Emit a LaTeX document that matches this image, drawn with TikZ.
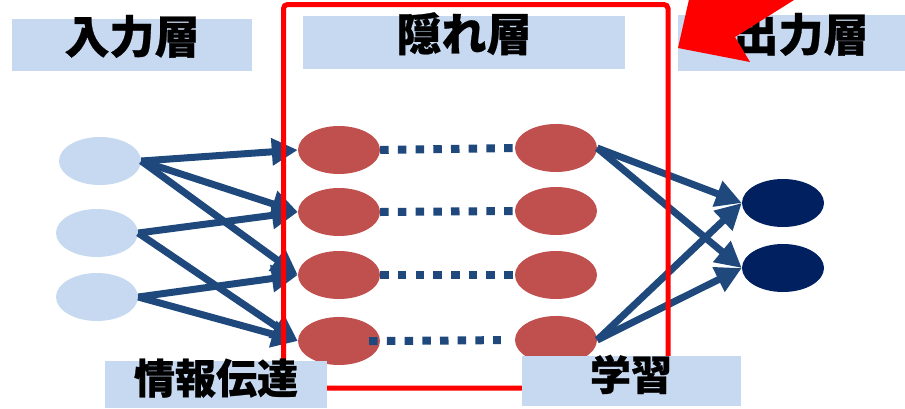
\documentclass[tikz,border=0pt]{standalone}
\usepackage{fontspec}
\newfontfamily\cjk{Noto Sans CJK JP}[BoldFeatures={FakeBold=0.6}]
\usetikzlibrary{arrows.meta}
\usetikzlibrary{shapes.geometric}

\definecolor{inblue}{RGB}{198,217,240}
\definecolor{hidred}{RGB}{192,80,77}
\definecolor{outnavy}{RGB}{0,32,96}
\definecolor{linkblue}{RGB}{31,73,125}
\definecolor{boxblue}{RGB}{198,217,241}

\tikzset{
	neuron/.style={ shape=ellipse, minimum width=82pt, minimum height=48pt, inner sep=0pt },
	layerlabel/.style={ fill=boxblue, inner sep=0pt, text height=16.6pt, text depth=0pt, font=\cjk\bfseries\fontsize{45}{45}\selectfont },
	steplabel/.style={ fill=boxblue, inner sep=0pt, text height=18.2pt, text depth=0pt, font=\cjk\bfseries\fontsize{41}{41}\selectfont },
	link/.style={ draw=linkblue, line width=7pt, -{Triangle[length=26pt, width=26pt]} },
	dots/.style={ draw=linkblue, line width=8pt, dash pattern=on 8.5pt off 9.2pt }
}

\begin{document}
\begin{tikzpicture}[ x=1pt, y=-1pt ]

	\useasboundingbox (0, 0) rectangle (905, 408);
	\clip (0, 0) rectangle (905, 408);

	% neurons
	\node[ neuron, fill=inblue ] (in1) at (100, 161) {};
	\node[ neuron, fill=inblue ] (in2) at (97, 233) {};
	\node[ neuron, fill=inblue ] (in3) at (97, 297) {};

	\foreach \i/\yl/\yr in {1/150/148, 2/212/211, 3/275/275, 4/341/340} {
		\node[ neuron, fill=hidred ] (hl\i) at (339, \yl) {};
		\node[ neuron, fill=hidred ] (hr\i) at (556, \yr) {};
	}

	\node[ neuron, fill=outnavy ] (out1) at (783, 203) {};
	\node[ neuron, fill=outnavy ] (out2) at (783, 268) {};

	% links
	\foreach \a/\b in {in1/hl1, in1/hl2, in1/hl3, in2/hl2, in2/hl4, in3/hl3, in3/hl4} {
		\draw[ link ] (\a.east) -- (\b.west);
	}
	\foreach \a in {hr1, hr4} {
		\draw[ link ] (\a.east) -- (out1.west);
		\draw[ link ] (\a.east) -- (out2.west);
	}

	\foreach \i in {1, 2, 3} {
		\draw[ dots, shorten >=2pt ] (hl\i.east) -- (hr\i.west);
	}
	\draw[ dots, shorten <=-11pt, shorten >=14pt ] (hl4.east) -- (hr4.west);

	% hidden layer frame
	\draw[ red, line width=5pt, rounded corners=4pt ] (283.5, 4.5) rectangle (668, 388);

	% labels
	\node[ layerlabel, minimum width=240pt, minimum height=52pt ] (inlabel) at (132, 45) {入力層};
	\node[ layerlabel, minimum width=322pt, minimum height=53pt ] (hidlabel) at (464, 42.5) {隠れ層};
	\node[ layerlabel, minimum width=246pt, minimum height=56pt ] (outlabel) at (801, 43) {出力層};
	\node[ steplabel, minimum width=222pt, minimum height=47pt ] (fwdlabel) at (216, 384.5) {情報伝達};
	\node[ steplabel, minimum width=219pt, minimum height=50pt ] (learnlabel) at (631, 381) {学習};

	% pointer
	\fill[ red ] (678, 48) -- (690, -5) -- (802, -5) -- (735, 37) -- (750, 62) -- cycle;

\end{tikzpicture}
\end{document}
